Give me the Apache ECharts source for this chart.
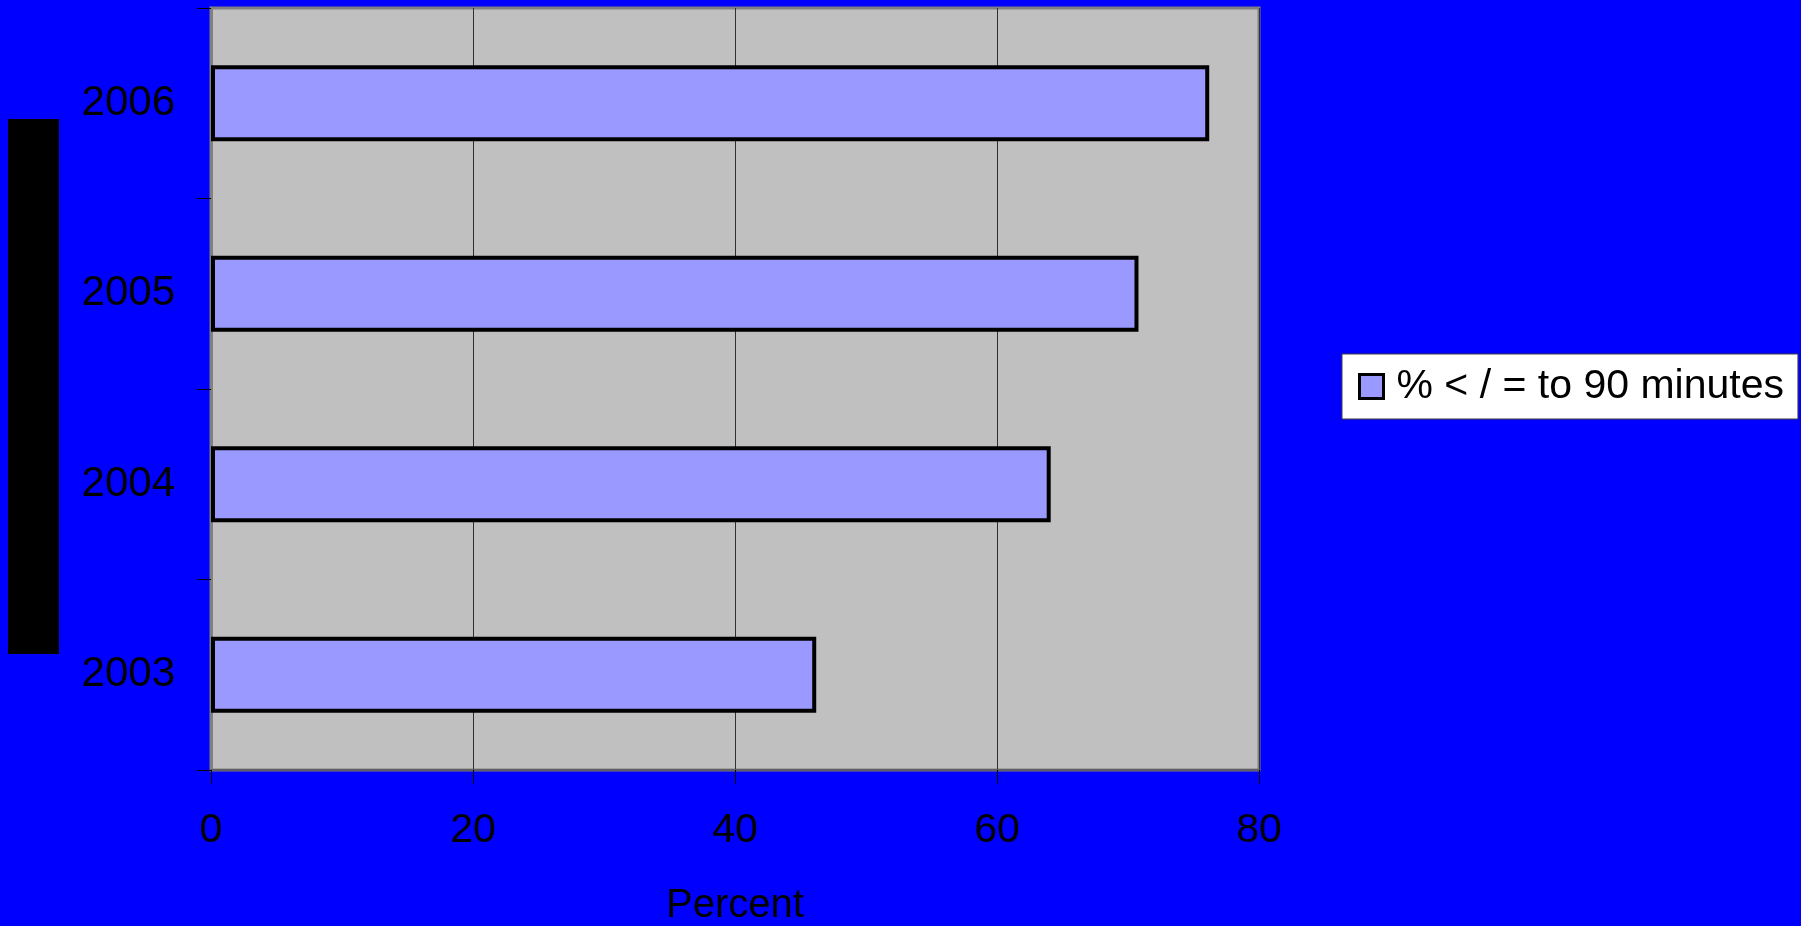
<!DOCTYPE html>
<html>
<head>
<meta charset="utf-8">
<title>Percent of cases within 90 minutes</title>
<script src="https://cdn.jsdelivr.net/npm/echarts@6/dist/echarts.min.js"></script>
<style>
  html, body { margin: 0; padding: 0; background: #0000ff; }
  #chart { width: 1801px; height: 926px; }
</style>
</head>
<body>
<div id="chart"></div>
<script>
// Years on the category axis (bottom to top) and their percentages
const years = ['2003', '2004', '2005', '2006'];
const percentWithin90 = [46.2, 64.1, 70.8, 76.2];
const seriesName = '% < / = to 90 minutes';
const percentTicks = { min: 0, max: 80, interval: 20 };

const chart = echarts.init(document.getElementById('chart'), null, { renderer: 'canvas' });

chart.setOption({
  backgroundColor: '#0000ff',
  animation: false,
  grid: {
    left: 211, top: 8, right: 542, bottom: 156,
    outerBoundsMode: 'none',
    containLabel: false,
    show: true,
    backgroundColor: '#c0c0c0',
    borderColor: '#808080',
    borderWidth: 3
  },
  legend: {
    show: true,
    left: 1342, top: 354,
    orient: 'vertical',
    backgroundColor: '#ffffff',
    borderColor: '#404040',
    borderWidth: 1,
    borderRadius: 0,
    padding: [12, 14, 12, 16],
    icon: 'rect',
    itemWidth: 24,
    itemHeight: 24,
    itemStyle: { borderColor: '#000000', borderWidth: 3 },
    textStyle: {
      fontFamily: 'Liberation Sans, Arial, sans-serif',
      fontSize: 41,
      color: '#000000',
      padding: [0, 0, 0, 8]
    },
    data: [seriesName]
  },
  xAxis: {
    type: 'value',
    min: percentTicks.min,
    max: percentTicks.max,
    interval: percentTicks.interval,
    name: 'Percent',
    nameLocation: 'middle',
    nameGap: 116,
    nameTextStyle: {
      fontFamily: 'Liberation Sans, Arial, sans-serif',
      fontSize: 40,
      color: '#000000'
    },
    axisLine: { show: true, lineStyle: { color: '#606060', width: 2 } },
    axisTick: { show: true, inside: false, length: 14, lineStyle: { color: '#000000', width: 1 } },
    axisLabel: {
      margin: 40,
      fontFamily: 'Liberation Sans, Arial, sans-serif',
      fontSize: 41,
      color: '#000000'
    },
    splitLine: { show: true, lineStyle: { color: '#303030', width: 1 } }
  },
  yAxis: {
    type: 'category',
    data: years,
    boundaryGap: true,
    axisLine: { show: true, lineStyle: { color: '#808080', width: 3 } },
    axisTick: { show: true, inside: false, length: 14, alignWithLabel: false, lineStyle: { color: '#000000', width: 1 } },
    axisLabel: {
      margin: 36,
      fontFamily: 'Liberation Sans, Arial, sans-serif',
      fontSize: 42,
      color: '#000000'
    },
    splitLine: { show: false }
  },
  series: [{
    name: seriesName,
    type: 'bar',
    data: percentWithin90,
    barCategoryGap: '60%',
    itemStyle: {
      color: '#9999ff',
      borderColor: '#000000',
      borderWidth: 4
    }
  }],
  graphic: [{
    type: 'rect',
    left: 8, top: 119,
    shape: { width: 51, height: 535 },
    style: { fill: '#000000' }
  }]
});
</script>
</body>
</html>
